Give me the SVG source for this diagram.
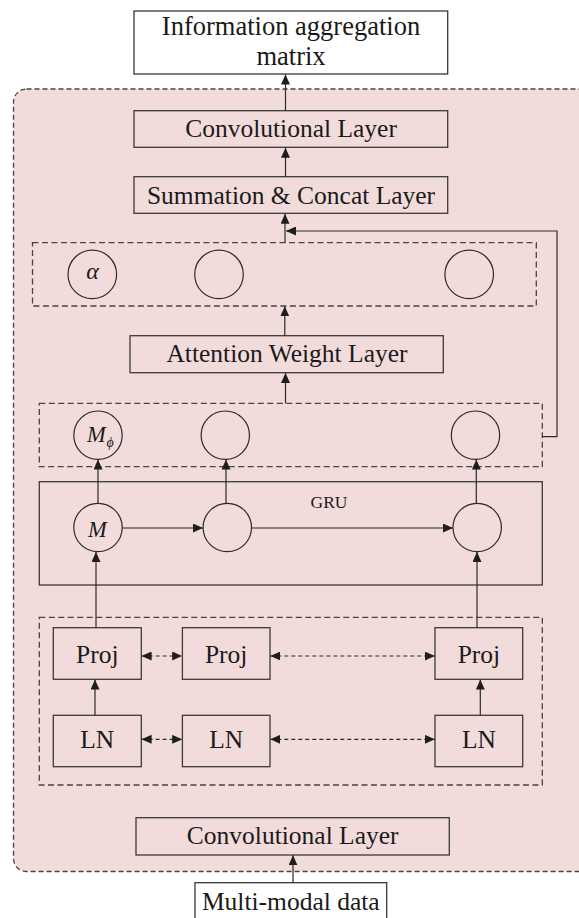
<svg xmlns="http://www.w3.org/2000/svg" width="579" height="918" viewBox="0 0 579 918">
<defs>
<marker id="ah" markerWidth="10" markerHeight="9" refX="10" refY="4.5" orient="auto" markerUnits="userSpaceOnUse"><path d="M0,0 L10,4.5 L0,9 z" fill="#1e1e1e"/></marker>
<marker id="ahs" markerWidth="10" markerHeight="9" refX="10" refY="4.5" orient="auto-start-reverse" markerUnits="userSpaceOnUse"><path d="M0,0 L10,4.5 L0,9 z" fill="#1e1e1e"/></marker>
</defs>
<style>
.box{fill:none;stroke:#3a3a3a;stroke-width:1.3}
.wbox{fill:#fff;stroke:#3a3a3a;stroke-width:1.3}
.dbox{fill:none;stroke:#444;stroke-width:1.3;stroke-dasharray:6 3.5}
.circ{fill:none;stroke:#2a2a2a;stroke-width:1.2}
.t{font-family:"Liberation Serif","Times New Roman",serif;font-size:25.5px;fill:#1a1a1a;text-anchor:middle}
.ti{font-style:italic}
.c{fill:none;stroke:#2a2a2a;stroke-width:1.2}
.cd{fill:none;stroke:#2a2a2a;stroke-width:1.2;stroke-dasharray:4 3}
</style>
<g id="region">
<rect x="13.5" y="89" width="600" height="782.5" rx="13" fill="#f2dcdb" stroke="#444" stroke-width="1.3" stroke-dasharray="5 3"/>
</g>
<g id="info-matrix">
<rect class="wbox" x="134" y="11" width="313.7" height="63"/>
<text class="t" x="291" y="35" style="font-size:26.5px">Information aggregation</text>
<text class="t" x="291" y="65" style="font-size:26.5px">matrix</text>
</g>
<g id="conv-top">
<rect class="box" x="134" y="110.7" width="313.7" height="36.6"/>
<text class="t" x="291" y="137">Convolutional Layer</text>
</g>
<g id="summation">
<rect class="box" x="134" y="176.7" width="313.7" height="36.6"/>
<text class="t" x="291" y="203.5">Summation &amp; Concat Layer</text>
</g>
<g id="alpha-group">
<rect class="dbox" x="32.5" y="242.7" width="503.8" height="63.3"/>
<circle class="circ" cx="92.3" cy="274.4" r="24.3"/>
<text class="t ti" x="92.5" y="278.8" style="font-size:24px">α</text>
<circle class="circ" cx="219" cy="274.4" r="24.3"/>
<circle class="circ" cx="469.2" cy="274.4" r="24.3"/>
</g>
<g id="attention">
<rect class="box" x="130" y="335.7" width="313.3" height="37"/>
<text class="t" x="287" y="361.7">Attention Weight Layer</text>
</g>
<g id="mphi-group">
<rect class="dbox" x="39.3" y="403.3" width="503" height="63.4"/>
<circle class="circ" cx="98" cy="435.2" r="24.2"/>
<text class="t ti" x="96.3" y="441.7" style="font-size:22.5px">M</text>
<text class="t ti" x="110" y="447" style="font-size:14px">ϕ</text>
<circle class="circ" cx="225.3" cy="435.2" r="24.2"/>
<circle class="circ" cx="475.5" cy="435.2" r="24.2"/>
</g>
<g id="gru">
<rect class="box" x="39.3" y="481.7" width="503" height="103.3"/>
<text class="t" x="329" y="507.7" style="font-size:17.5px">GRU</text>
<circle class="circ" cx="98" cy="527.5" r="24.2"/>
<text class="t ti" x="97.3" y="536.7" style="font-size:22.5px">M</text>
<circle class="circ" cx="227.3" cy="527.5" r="24.2"/>
<circle class="circ" cx="477.2" cy="527.5" r="24.2"/>
</g>
<g id="proj-ln-group">
<rect class="dbox" x="39.3" y="617.3" width="503" height="167.7"/>
</g>
<g id="proj1"><rect class="box" x="53.3" y="627.7" width="88" height="51.6"/><text class="t" x="97.3" y="662.7">Proj</text></g>
<g id="proj2"><rect class="box" x="182.4" y="627.7" width="87.6" height="51.6"/><text class="t" x="226.2" y="662.7">Proj</text></g>
<g id="proj3"><rect class="box" x="435" y="627.7" width="87.7" height="51.6"/><text class="t" x="478.9" y="662.7">Proj</text></g>
<g id="ln1"><rect class="box" x="53.3" y="715.3" width="88" height="51.4"/><text class="t" x="97.3" y="748.3">LN</text></g>
<g id="ln2"><rect class="box" x="182.4" y="715.3" width="87.6" height="51.4"/><text class="t" x="226.2" y="748.3">LN</text></g>
<g id="ln3"><rect class="box" x="435" y="715.3" width="87.7" height="51.4"/><text class="t" x="478.9" y="748.3">LN</text></g>
<g id="conv-bottom">
<rect class="box" x="136" y="817.7" width="313.3" height="37.3"/>
<text class="t" x="292.7" y="844">Convolutional Layer</text>
</g>
<g id="multimodal">
<rect class="wbox" x="195" y="882.7" width="191.7" height="37"/>
<text class="t" x="290.8" y="910">Multi-modal data</text>
</g>
<g id="connectors">
<line class="c" x1="285.5" y1="110.7" x2="285.5" y2="74.5" marker-end="url(#ah)"/>
<line class="c" x1="285.5" y1="176.7" x2="285.5" y2="147.8" marker-end="url(#ah)"/>
<line class="c" x1="285" y1="242.7" x2="285" y2="213.8" marker-end="url(#ah)"/>
<polyline class="c" points="542.3,436.7 557,436.7 557,231 286,231" marker-end="url(#ah)"/>
<line class="c" x1="284.8" y1="335.7" x2="284.8" y2="306.3" marker-end="url(#ah)"/>
<line class="c" x1="285.5" y1="403.3" x2="285.5" y2="373" marker-end="url(#ah)"/>
<line class="c" x1="98" y1="503.3" x2="98" y2="459.6" marker-end="url(#ah)"/>
<line class="c" x1="226" y1="503.3" x2="226" y2="459.6" marker-end="url(#ah)"/>
<line class="c" x1="476.3" y1="503.3" x2="476.3" y2="459.6" marker-end="url(#ah)"/>
<line class="c" x1="122.2" y1="528" x2="203" y2="528" marker-end="url(#ah)"/>
<line class="c" x1="251.5" y1="528" x2="453" y2="528" marker-end="url(#ah)"/>
<line class="c" x1="96" y1="627.7" x2="96" y2="551.9" marker-end="url(#ah)"/>
<line class="c" x1="477" y1="627.7" x2="477" y2="551.9" marker-end="url(#ah)"/>
<line class="c" x1="95" y1="715.3" x2="95" y2="679.6" marker-end="url(#ah)"/>
<line class="c" x1="480.3" y1="715.3" x2="480.3" y2="679.6" marker-end="url(#ah)"/>
<line class="cd" x1="141.6" y1="656" x2="182.2" y2="656" marker-start="url(#ahs)" marker-end="url(#ah)"/>
<line class="cd" x1="270.3" y1="656" x2="434.8" y2="656" marker-start="url(#ahs)" marker-end="url(#ah)"/>
<line class="cd" x1="141.6" y1="739.3" x2="182.2" y2="739.3" marker-start="url(#ahs)" marker-end="url(#ah)"/>
<line class="cd" x1="270.3" y1="739.3" x2="434.8" y2="739.3" marker-start="url(#ahs)" marker-end="url(#ah)"/>
<line class="c" x1="293" y1="882.7" x2="293" y2="855.3" marker-end="url(#ah)"/>
</g>
</svg>
